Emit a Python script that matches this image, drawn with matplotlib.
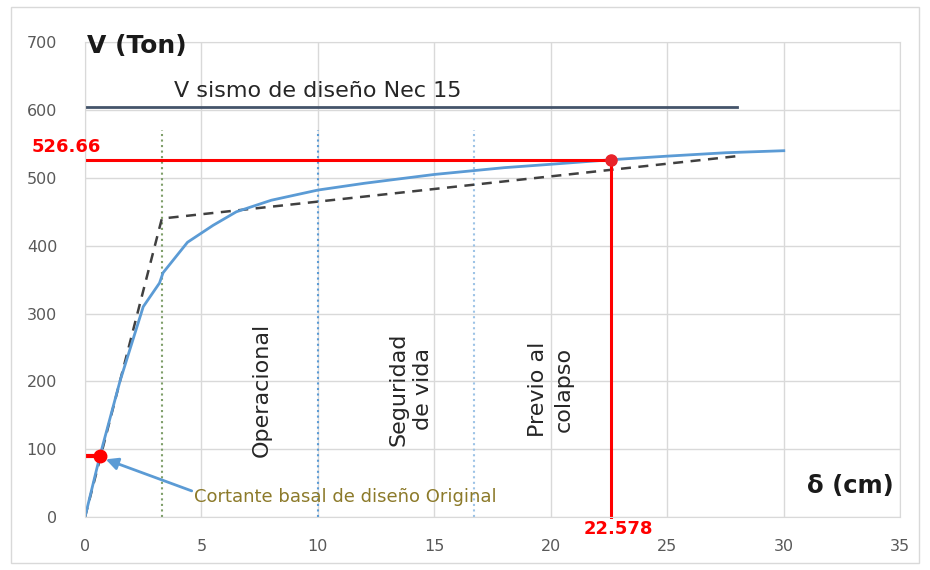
import numpy as np
import matplotlib
matplotlib.use("Agg")
import matplotlib.pyplot as plt
from matplotlib.patches import Rectangle

# curva pushover (cm, Ton)
delta = [0, 0.64, 1.5, 2.5, 3.2, 3.35, 4.4, 5.5, 6.5, 8, 10, 12, 15, 18, 20, 22.578, 25, 27.5, 30]
V = [0, 90, 200, 310, 345, 360, 405, 430, 450, 467, 482, 492, 505, 515, 520, 526.66, 532, 537, 540]

# curva bilineal
bil_x = [0, 3.3, 28]
bil_y = [0, 440, 532]

# cortante sismo de diseno
V_nec = 605
nec_x = [0, 28]

# punto de desempeno
dp_x = 22.578
dp_y = 526.66

# cortante basal original
orig_x = 0.64
orig_y = 90

# limites de desempeno
lim_x = [3.3, 10, 16.7]
lim_top = 570
lim_colors = ['#7F9F6A', '#5B9BD5', '#9DC3E6']
lim_labels = ['Operacional', 'Seguridad\nde vida', 'Previo al\ncolapso']
lim_lab_x = [7.6, 14, 20]

fig = plt.figure(figsize=(9.3, 5.7), dpi=100)
ax = fig.add_axes([0.0914, 0.093, 0.8766, 0.833])

# borde exterior estilo excel
fig.patches.append(Rectangle((0.012, 0.012), 0.976, 0.976, transform=fig.transFigure,
                             fill=False, edgecolor='#D9D9D9', lw=1))

ax.set_xlim(0, 35)
ax.set_ylim(0, 700)
ax.set_xticks(np.arange(0, 36, 5))
ax.set_yticks(np.arange(0, 701, 100))
ax.grid(True, color='#D9D9D9', lw=1)
ax.set_axisbelow(True)
for s in ax.spines.values():
    s.set_color('#D9D9D9')
ax.tick_params(length=0, colors='#595959', labelsize=11.5)
ax.tick_params(axis='y', pad=20)
ax.tick_params(axis='x', pad=16)

for x, c in zip(lim_x, lim_colors):
    ax.plot([x, x], [0, lim_top], color=c, ls=':', lw=1.5)
for x, t in zip(lim_lab_x, lim_labels):
    ax.text(x, 188, t, rotation=90, ha='center', va='center', fontsize=16,
            color='#262626', linespacing=1.3)

ax.plot(nec_x, [V_nec, V_nec], color='#44546A', lw=2)
ax.text(10, 613, 'V sismo de diseño Nec 15', ha='center', va='bottom',
        fontsize=16, color='#262626')

ax.plot(bil_x, bil_y, color='#404040', ls='--', lw=1.8, dashes=(4, 3))
ax.plot(delta, V, color='#5B9BD5', lw=2)

ax.plot([0, dp_x], [dp_y, dp_y], color='#FF0000', lw=2.2)
ax.plot([dp_x, dp_x], [0, dp_y], color='#FF0000', lw=2.2, clip_on=False)
ax.plot([dp_x], [dp_y], marker='o', color='#E8232A', ms=8)
ax.plot([0, orig_x], [orig_y, orig_y], color='#FF0000', lw=3)
ax.plot([orig_x], [orig_y], marker='o', color='#FF0000', ms=9)

ax.annotate('Cortante basal de diseño Original', xy=(orig_x + 0.25, orig_y - 5),
            xytext=(4.7, 29), fontsize=13, color='#8C7A2A', va='center', ha='left',
            arrowprops=dict(arrowstyle='-|>', color='#5B9BD5', lw=2,
                            shrinkA=0, shrinkB=0, mutation_scale=18,
                            relpos=(0, 0.8)),
            zorder=5)

ax.text(0.7, dp_y + 5, f'{dp_y:.2f}', ha='right', va='bottom',
        fontsize=13, color='#FF0000', fontweight='bold')
ax.text(dp_x + 0.3, -5, f'{dp_x:.3f}', ha='center', va='top', fontsize=13,
        color='#FF0000', fontweight='bold')

ax.text(0.1, 694, 'V (Ton)', ha='left', va='center', fontsize=18, fontweight='bold',
        color='#1a1a1a')
ax.text(34.7, 45, 'δ (cm)', ha='right', va='center', fontsize=17.5, fontweight='bold',
        color='#1a1a1a')

fig.savefig('out.png', dpi=100)
